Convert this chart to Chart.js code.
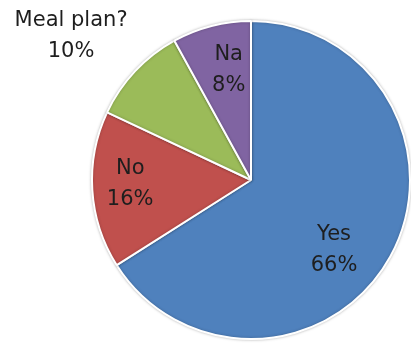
<!DOCTYPE html>
<html>
<head>
<meta charset="utf-8">
<script src="https://cdn.jsdelivr.net/npm/chart.js@4/dist/chart.umd.min.js"></script>
<style>
  html, body { margin: 0; padding: 0; background: #fff; }
  .chart-area { width: 411px; height: 347px; }
</style>
</head>
<body>
<div class="chart-area">
  <canvas id="meal-pie"></canvas>
</div>
<script>
var labels = ['Yes', 'No', 'Meal plan?', 'Na'];
var values = [66, 16, 10, 8];
var colors = ['#4F81BD', '#C0504D', '#9BBB59', '#8064A2'];

// where each label sits: fraction of radius, and angle nudge in degrees
var labelSpots = [
  { r: 0.68, shift: 11 },
  { r: 0.76, shift: 2 },
  { r: 1.45, shift: -4.5 },
  { r: 0.71, shift: 3 }
];

var pieLabels = {
  id: 'pieLabels',
  afterDatasetsDraw: function(chart) {
    var ctx = chart.ctx;
    var meta = chart.getDatasetMeta(0);
    var total = values.reduce(function(a, b) { return a + b; }, 0);
    ctx.save();
    ctx.font = '21px "DejaVu Sans"';
    ctx.fillStyle = '#1e1e1e';
    ctx.textAlign = 'center';
    ctx.textBaseline = 'middle';
    meta.data.forEach(function(arc, i) {
      var p = arc.getProps(['x', 'y', 'startAngle', 'endAngle', 'outerRadius'], true);
      var mid = (p.startAngle + p.endAngle) / 2 + labelSpots[i].shift * Math.PI / 180;
      var rr = p.outerRadius * labelSpots[i].r;
      var x = p.x + Math.cos(mid) * rr;
      var y = p.y + Math.sin(mid) * rr;
      var pct = Math.round(values[i] / total * 100) + '%';
      ctx.fillText(labels[i], x, y - 15);
      ctx.fillText(pct, x, y + 16);
    });
    ctx.restore();
  }
};

var pieShadow = {
  id: 'pieShadow',
  beforeDatasetsDraw: function(chart) {
    var ctx = chart.ctx;
    ctx.save();
    ctx.shadowColor = 'rgba(0,0,0,0.25)';
    ctx.shadowBlur = 3;
  },
  afterDatasetsDraw: function(chart) {
    chart.ctx.restore();
  }
};

var ctx = document.getElementById('meal-pie').getContext('2d');
var myChart = new Chart(ctx, {
  type: 'pie',
  data: {
    labels: labels,
    datasets: [{
      data: values,
      backgroundColor: colors,
      borderColor: '#ffffff',
      borderWidth: 2
    }]
  },
  options: {
    responsive: true,
    maintainAspectRatio: false,
    animation: false,
    layout: { padding: { left: 91, right: 0, top: 20, bottom: 7 } },
    plugins: {
      legend: { display: false },
      tooltip: { enabled: false }
    }
  },
  plugins: [pieShadow, pieLabels]
});
</script>
</body>
</html>
